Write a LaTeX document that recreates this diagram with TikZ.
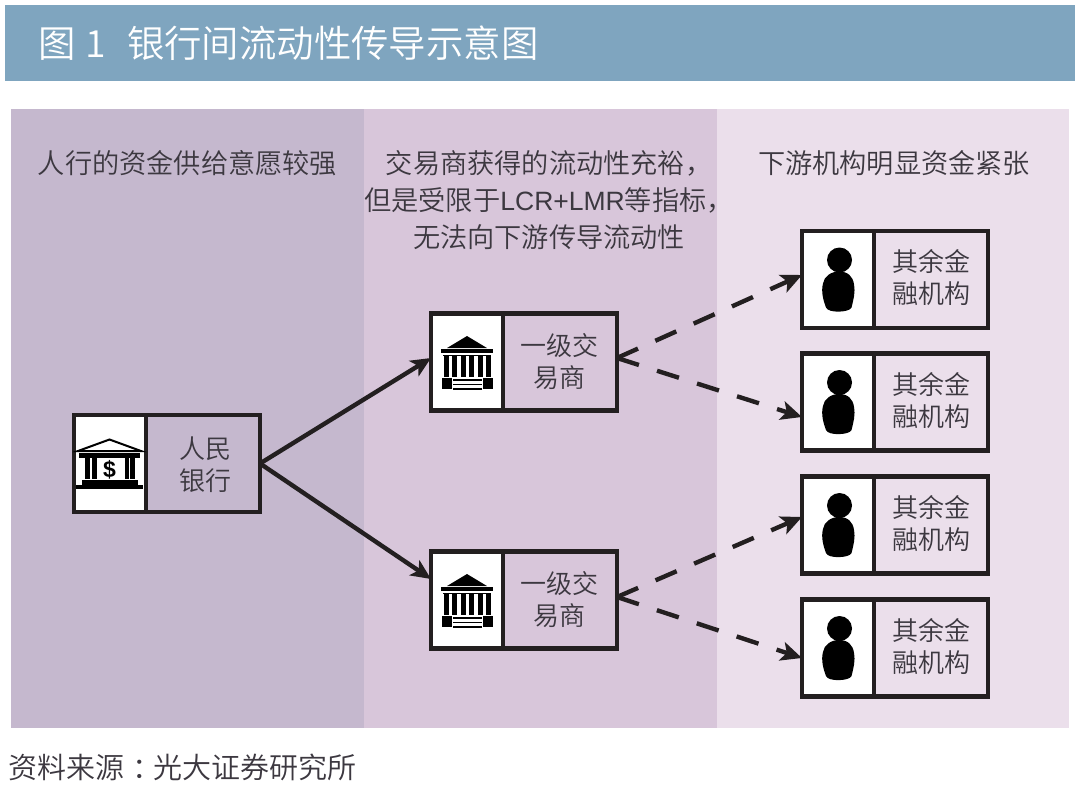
\documentclass[tikz,border=0pt]{standalone}
\usepackage{fontspec}
\setmainfont{Noto Sans CJK SC}[UprightFont=* DemiLight]
\newfontfamily\dollarfont{Liberation Sans}
\newfontfamily\latinpart{Liberation Sans}
\usetikzlibrary{arrows.meta}
\definecolor{headblue}{HTML}{7FA5BF}
\definecolor{panelA}{HTML}{C5B8CE}
\definecolor{panelB}{HTML}{D8C6DA}
\definecolor{panelC}{HTML}{EBDFEB}
\definecolor{ink}{HTML}{231F20}
\definecolor{txt}{HTML}{3C3840}
\tikzset{
  x=1pt,y=-1pt,
  panel/.style={draw=none,minimum height=619pt,inner sep=0pt,outer sep=0pt},
  outerbox/.style={draw=ink,line width=4.4pt,minimum width=186pt,minimum height=97pt,inner sep=0pt,outer sep=0pt},
  iconcell/.style={draw=ink,line width=4.4pt,fill=white,minimum width=72pt,minimum height=97pt,inner sep=0pt,outer sep=0pt},
  boxtext/.style={text=txt,align=center,font=\fontsize{26}{32}\selectfont,inner sep=0pt},
  headtext/.style={text=txt,align=center,font=\fontsize{27.2}{37}\selectfont,inner sep=0pt},
  solidlink/.style={draw=ink,line width=4.4pt,-{Stealth[length=20pt,width=18pt,inset=5pt]}},
  dashlink/.style={draw=ink,line width=4.4pt,dash pattern=on 23pt off 19pt,-{Stealth[length=21pt,width=19pt,inset=5pt]}},
  bankdollar/.pic={
    \draw[black,line width=2pt,line join=miter] (-32,-12.5)--(-0.5,-24)--(31,-12.5)--cycle;
    \fill[black] (-31,-10.5) rectangle (30,-6);
    \foreach \a/\b in {-25/-20.5,-18/-13.5,14.5/18.5,20/24.5}{\fill[black] (\a,-6) rectangle (\b,15);}
    \fill[black] (-28,16.5) rectangle (28,25);
    \fill[black] (-34,21) rectangle (33,25.5);
    \node[inner sep=0pt,font=\dollarfont\bfseries\fontsize{23}{23}\selectfont,text=black] (dollar) at (-0.5,6) {\$};
  },
  bankplain/.pic={
    \fill[black] (0,-26)--(20,-14)--(-20,-14)--cycle;
    \fill[black] (-26,-13.5) rectangle (26,-9);
    \fill[black] (-24,-7.5) rectangle (24,-6.5);
    \foreach \a in {-23.5,-15,-6.5,2,10.5,19}{\fill[black] (\a,-6) rectangle (\a+5,15);}
    \fill[black] (-25,16) rectangle (-15,27);
    \fill[black] (16,16) rectangle (26,27);
    \foreach \b in {17,21.5,26}{\fill[black] (-14,\b) rectangle (15,\b+1.6);}
  },
  personicon/.pic={
    \fill[black] (1.5,-19.5) circle[radius=12.5pt];
    \fill[black] (1,-8) .. controls (10,-8) and (15,-3) .. (16,5)
      .. controls (17.5,13) and (15.5,20) .. (13.5,28)
      .. controls (12,33) and (-10,34) .. (-12,28)
      .. controls (-15,20) and (-17,12) .. (-15,4)
      .. controls (-14,-3) and (-7,-8) .. (1,-8) -- cycle;
  }
}
% name, cx, cy, pic, text, text dx, text dy
\newcommand{\instbox}[7]{%
  \node[outerbox] (#1) at (#2,#3) {};
  \node[iconcell] (#1-icon) at (#2-57,#3) {};
  \pic at (#1-icon.center) {#4};
  \node[boxtext] (#1-text) at (#2+#6,#3+#7) {#5};
}
\begin{document}
\begin{tikzpicture}
\useasboundingbox (0,0) rectangle (1080,787);
\fill[white] (0,0) rectangle (1080,787);
\node[fill=headblue,minimum width=1070pt,minimum height=76pt,inner sep=0pt,outer sep=0pt] (header) at (540,43) {};
\node[anchor=west,inner sep=0pt,text=white,font=\fontsize{37.4}{37.4}\selectfont] (title) at (38,43) {图\hspace{10pt}1\hspace{21pt}银行间流动性传导示意图};
\node[panel,fill=panelA,minimum width=353pt] (pa) at (187.5,418.5) {};
\node[panel,fill=panelB,minimum width=354pt] (pb) at (541,418.5) {};
\node[panel,fill=panelC,minimum width=352pt] (pc) at (893,418.5) {};
\node[headtext] (ha) at (187.5,163) {人行的资金供给意愿较强};
\node[headtext] (hb) at (549,200) {交易商获得的流动性充裕，\\但是受限于{\latinpart\fontsize{26.5}{37}\selectfont LCR+LMR}等指标，\\无法向下游传导流动性};
\node[headtext] (hc) at (894,163) {下游机构明显资金紧张};
\instbox{pboc}{167}{463.5}{bankdollar}{人民\\银行}{38}{1}
\instbox{da}{524}{362}{bankplain}{一级交\\易商}{35}{0}
\instbox{db}{524}{600}{bankplain}{一级交\\易商}{35}{0}
\instbox{ia}{895}{279.5}{personicon}{其余金\\融机构}{36}{-2}
\instbox{ib}{895}{402}{personicon}{其余金\\融机构}{36}{-2}
\instbox{ic}{895}{525}{personicon}{其余金\\融机构}{36}{-2}
\instbox{id}{895}{648}{personicon}{其余金\\融机构}{36}{-2}
\draw[solidlink] (pboc.east) -- ([yshift=4pt]da.west);
\draw[solidlink] (pboc.east) -- ([yshift=21pt]db.west);
\draw[dashlink] ([yshift=4pt]da.east) -- ([yshift=4.5pt]ia.west);
\draw[dashlink] ([yshift=4pt]da.east) -- ([yshift=-15pt]ib.west);
\draw[dashlink] ([yshift=3pt]db.east) -- ([yshift=8pt]ic.west);
\draw[dashlink] ([yshift=3pt]db.east) -- ([yshift=-10pt]id.west);
\node[anchor=west,inner sep=0pt,text=txt,font=\fontsize{29}{29}\selectfont] (source) at (8,767) {资料来源\kern8pt：\kern-8pt光大证券研究所};
\end{tikzpicture}
\end{document}
